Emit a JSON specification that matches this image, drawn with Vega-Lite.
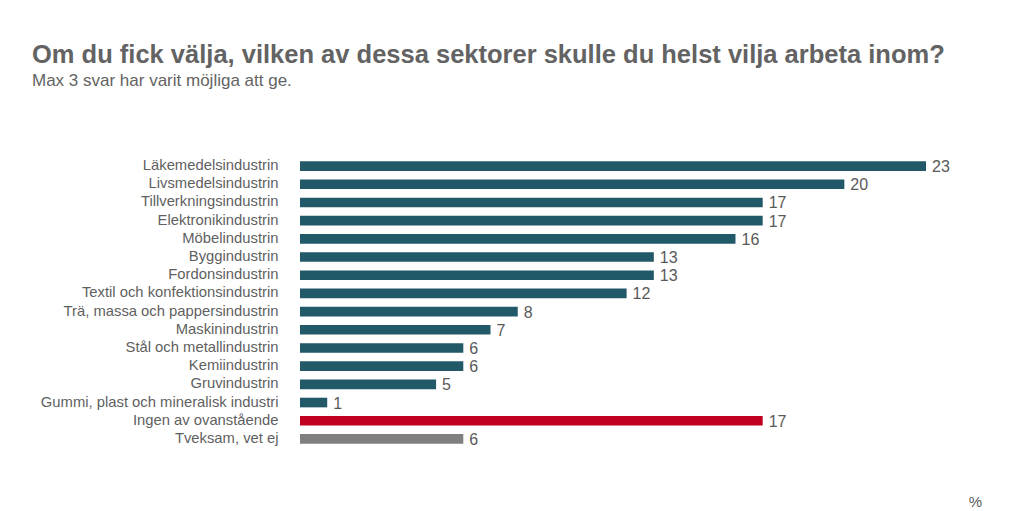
{
  "$schema": "https://vega.github.io/schema/vega-lite/v6.json",
  "autosize": {"type": "none"},
  "padding": {"left": 300, "top": 157, "right": 98, "bottom": 63},
  "width": 626,
  "height": 291,
  "background": "white",
  "title": {
    "text": "Om du fick välja, vilken av dessa sektorer skulle du helst vilja arbeta inom?",
    "subtitle": "Max 3 svar har varit möjliga att ge.",
    "anchor": "start",
    "frame": "group",
    "dx": -268,
    "offset": 68,
    "font": "Liberation Sans",
    "fontSize": 25.5,
    "fontWeight": "bold",
    "color": "#636363",
    "subtitleFont": "Liberation Sans",
    "subtitleFontSize": 17,
    "subtitleColor": "#636363",
    "subtitlePadding": 5
  },
  "config": {"view": {"stroke": null}},
  "data": {
    "values": [
      {"sektor": "Läkemedelsindustrin", "procent": 23, "grupp": "bransch"},
      {"sektor": "Livsmedelsindustrin", "procent": 20, "grupp": "bransch"},
      {"sektor": "Tillverkningsindustrin", "procent": 17, "grupp": "bransch"},
      {"sektor": "Elektronikindustrin", "procent": 17, "grupp": "bransch"},
      {"sektor": "Möbelindustrin", "procent": 16, "grupp": "bransch"},
      {"sektor": "Byggindustrin", "procent": 13, "grupp": "bransch"},
      {"sektor": "Fordonsindustrin", "procent": 13, "grupp": "bransch"},
      {"sektor": "Textil och konfektionsindustrin", "procent": 12, "grupp": "bransch"},
      {"sektor": "Trä, massa och pappersindustrin", "procent": 8, "grupp": "bransch"},
      {"sektor": "Maskinindustrin", "procent": 7, "grupp": "bransch"},
      {"sektor": "Stål och metallindustrin", "procent": 6, "grupp": "bransch"},
      {"sektor": "Kemiindustrin", "procent": 6, "grupp": "bransch"},
      {"sektor": "Gruvindustrin", "procent": 5, "grupp": "bransch"},
      {"sektor": "Gummi, plast och mineralisk industri", "procent": 1, "grupp": "bransch"},
      {"sektor": "Ingen av ovanstående", "procent": 17, "grupp": "ingen"},
      {"sektor": "Tveksam, vet ej", "procent": 6, "grupp": "vetej"}
    ]
  },
  "encoding": {
    "y": {
      "field": "sektor",
      "type": "nominal",
      "sort": null,
      "scale": {"paddingInner": 0.47, "paddingOuter": 0.235},
      "axis": {
        "title": null,
        "domain": false,
        "ticks": false,
        "labelPadding": 22,
        "labelFont": "Liberation Sans",
        "labelFontSize": 14.8,
        "labelColor": "#5f5f5f",
        "labelLimit": 400
      }
    },
    "x": {
      "field": "procent",
      "type": "quantitative",
      "scale": {"domain": [0, 23], "nice": false, "zero": true},
      "axis": {
        "title": "%",
        "domain": false,
        "ticks": false,
        "labels": false,
        "grid": false,
        "titleX": 675,
        "titleY": 58,
        "titleAlign": "center",
        "titleBaseline": "alphabetic",
        "titleFont": "Liberation Sans",
        "titleFontSize": 15,
        "titleFontWeight": "normal",
        "titleColor": "#595959"
      }
    }
  },
  "layer": [
    {
      "mark": {"type": "bar"},
      "encoding": {
        "color": {
          "field": "grupp",
          "type": "nominal",
          "scale": {"domain": ["bransch", "ingen", "vetej"], "range": ["#215968", "#C0001E", "#7F7F7F"]},
          "legend": null
        }
      }
    },
    {
      "mark": {"type": "text", "align": "left", "baseline": "middle", "dx": 6, "dy": 1, "font": "Liberation Sans", "fontSize": 16, "color": "#595959"},
      "encoding": {"text": {"field": "procent", "type": "quantitative"}}
    }
  ]
}
